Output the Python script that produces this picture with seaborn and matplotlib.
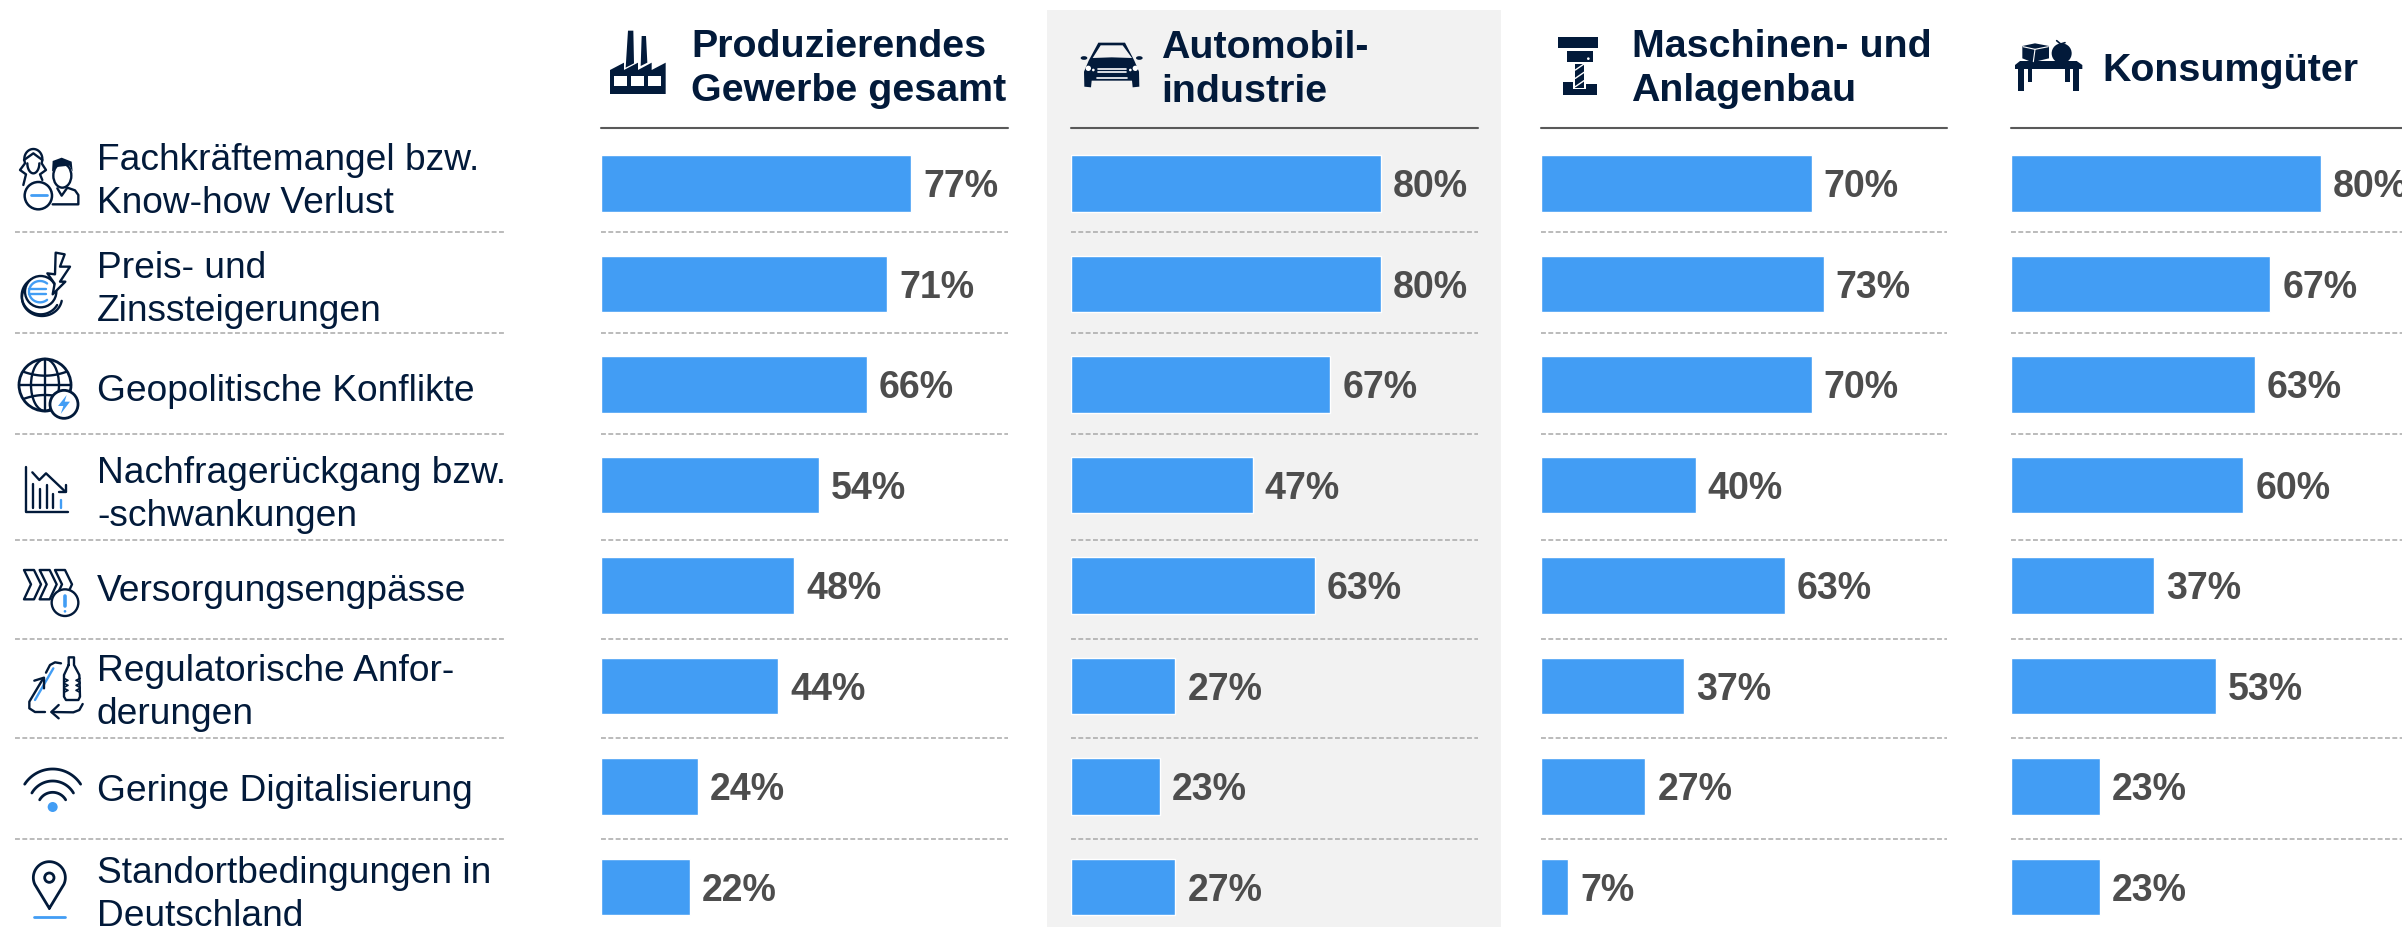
import numpy as np
import pandas as pd
import seaborn as sns
import matplotlib
matplotlib.use("Agg")
import matplotlib.pyplot as plt
from matplotlib.patches import Polygon, Circle, Ellipse, Rectangle
from matplotlib.transforms import Affine2D

categories = ["Fachkräftemangel bzw.\nKnow-how Verlust", "Preis- und\nZinssteigerungen",
              "Geopolitische Konflikte", "Nachfragerückgang bzw.\n-schwankungen",
              "Versorgungsengpässe", "Regulatorische Anfor-\nderungen",
              "Geringe Digitalisierung", "Standortbedingungen in\nDeutschland"]
panel_titles = ["Produzierendes\nGewerbe gesamt", "Automobil-\nindustrie",
                "Maschinen- und\nAnlagenbau", "Konsumgüter"]
gesamt = [77, 71, 66, 54, 48, 44, 24, 22]
automobil = [80, 80, 67, 47, 63, 27, 23, 27]
maschinen = [70, 73, 70, 40, 63, 37, 27, 7]
konsum = [80, 67, 63, 60, 37, 53, 23, 23]
panel_values = [gesamt, automobil, maschinen, konsum]

W, H = 2402, 927
NAVY = "#021a3a"
BLUE = "#429df4"
GREY = "#f2f2f2"
VAL = "#4d4d4d"
DASH = "#a8a8a8"

sns.set_theme(style="white")
plt.rcParams["font.family"] = ["Liberation Sans", "DejaVu Sans"]

fig = plt.figure(figsize=(W / 100, H / 100), dpi=100, facecolor="white")
ov = fig.add_axes([0, 0, 1, 1], zorder=0)
ov.set_xlim(0, W)
ov.set_ylim(H, 0)
ov.axis("off")

# panel geometry in pixels: left, right, title x, px per percent
panels = [(601, 1008, 691, 4.03), (1071, 1478, 1161, 3.87),
          (1541, 1947, 1631.5, 3.87), (2011, 2402, 2102, 3.87)]
row_seps = [232, 333, 434, 540, 639, 738, 839]
label_base = [213, 321, 401, 526, 601, 724, 801, 926]
title_base = [101, 102, 101, 81]
row0, pitch = 183.5, 100.5

ov.add_patch(Rectangle((1047, 10), 454, H - 10, fc=GREY, ec="none"))

dash_kw = dict(color=DASH, lw=1.1, dashes=(3.2, 1.6))
for y in row_seps:
    ov.plot([15, 506], [y, y], **dash_kw)
    for l, r, _, _ in panels:
        ov.plot([l, r], [y, y], **dash_kw)

for cat, yb in zip(categories, label_base):
    ov.text(97, yb, cat, fontsize=26.7, color=NAVY, va="baseline", ha="left", linespacing=1.29)

for (l, r, tx, sc), title, vals, yb in zip(panels, panel_titles, panel_values, title_base):
    ov.plot([l, r], [128, 128], color="#595959", lw=1.5)
    ov.text(tx, yb, title, fontsize=28.4, fontweight="bold", color=NAVY, va="baseline",
            ha="left", linespacing=1.27)
    top = row0 - pitch / 2
    ax = fig.add_axes([l / W, 0, (r - l) / W, (H - top) / H], zorder=1)
    df = pd.DataFrame({"cat": categories, "val": vals})
    sns.barplot(data=df, y="cat", x="val", ax=ax, color=BLUE, saturation=1, width=0.56,
                orient="h", order=categories)
    ax.set_xlim(0, (r - l) / sc)
    ax.set_ylim((H - top) / pitch - 0.5, -0.5)
    labs = ax.bar_label(ax.containers[0], labels=[f"{v}%" for v in vals], padding=8.6, fontsize=27,
                        fontweight="bold", color=VAL)
    for lab in labs:
        lab.xyann = (lab.xyann[0], -2.6)
    ax.axis("off")


# ---- icons: drawn in zoom-space coordinates (3x) relative to an origin
def tr(x0, y0):
    return Affine2D().scale(1 / 3).translate(x0, y0) + ov.transData


def line(t, pts, color=NAVY, lw=1.7, z=3, **k):
    p = np.array(pts, float)
    ov.plot(p[:, 0], p[:, 1], color=color, lw=lw, transform=t, zorder=z,
            solid_capstyle="round", solid_joinstyle="round", **k)


def arc(t, cx, cy, rx, ry, a1, a2, color=NAVY, lw=1.7, z=3):
    a = np.radians(np.linspace(a1, a2, 60))
    line(t, np.c_[cx + rx * np.cos(a), cy - ry * np.sin(a)], color, lw, z)


def poly(t, pts, fc=NAVY, ec="none", lw=0, z=3):
    ov.add_patch(Polygon(pts, closed=True, fc=fc, ec=ec, lw=lw, transform=t, zorder=z, joinstyle="round"))


def circ(t, c, r, fc="white", ec=NAVY, lw=1.7, z=3):
    ov.add_patch(Circle(c, r, fc=fc, ec=ec, lw=lw, transform=t, zorder=z))


# Fachkräfte
t = tr(10, 135)
arc(t, 70, 72, 27, 30, -20, 200)
line(t, [(45, 85), (30, 105), (48, 118), (40, 150)])
line(t, [(95, 85), (108, 105), (90, 118), (97, 135)])
arc(t, 70, 85, 18, 30, 180, 360)
line(t, [(42, 75), (70, 55), (97, 75)])
ov.add_patch(Ellipse((157, 122), 54, 72, fc="white", ec=NAVY, lw=1.7, transform=t, zorder=3))
poly(t, [(126, 110), (128, 78), (155, 68), (185, 80), (188, 110), (178, 92), (140, 96)])
line(t, [(128, 208), (205, 208), (205, 180), (195, 166), (172, 158), (155, 182), (142, 160)])
circ(t, (85, 182), 41, lw=1.8, z=4)
line(t, [(62, 181), (110, 181)], color=BLUE, lw=2, z=5)

# Preis
arc(t, 92, 482, 57, 56, 60, 330, lw=1.7)
arc(t, 96, 488, 60, 55, 150, 350, lw=1.7)
circ(t, (92, 470), 47, fc="white", lw=1.7, z=3)
arc(t, 90, 470, 33, 32, 50, 310, color=BLUE, lw=1.7, z=4)
line(t, [(56, 461), (108, 461)], color=BLUE, z=4)
line(t, [(56, 476), (108, 476)], color=BLUE, z=4)
poly(t, [(137, 353), (164, 358), (150, 395), (180, 395), (150, 440), (166, 440), (128, 478),
         (134, 446), (112, 415), (135, 418)], fc="white", ec=NAVY, lw=1.7, z=5)

# Globus
t = tr(10, 345)
circ(t, (105, 120), 78, lw=2)
ov.add_patch(Ellipse((105, 120), 84, 156, fc="none", ec=NAVY, lw=1.7, transform=t, zorder=3))
line(t, [(105, 42), (105, 198)])
line(t, [(27, 120), (183, 120)])
xs = np.linspace(40, 170, 40)
line(t, np.c_[xs, 92 - 12 * ((xs - 105) / 65) ** 2])
line(t, np.c_[xs, 150 + 12 * ((xs - 105) / 65) ** 2])
circ(t, (162, 178), 42, lw=2, z=4)
poly(t, [(170, 150), (144, 183), (160, 183), (152, 207), (180, 170), (164, 170)], fc=BLUE, z=5)

# Nachfrage
line(t, [(47, 365), (47, 500), (175, 500)])
for x, y in [(70, 418), (90, 432), (110, 420), (130, 448)]:
    line(t, [(x, y), (x, 488)])
line(t, [(152, 466), (152, 488)], color=BLUE)
line(t, [(67, 382), (88, 405), (108, 385), (166, 440)])
line(t, [(168, 420), (168, 442), (146, 442)])

# Versorgung
t = tr(10, 550)
for dx in (0, 47, 93):
    poly(t, [(42 + dx, 60), (72 + dx, 60), (93 + dx, 103), (72 + dx, 148), (42 + dx, 148),
             (63 + dx, 103)], fc="white", ec=NAVY, lw=1.7)
circ(t, (165, 158), 40, lw=1.7, z=4)
line(t, [(165, 137), (165, 168)], color=BLUE, lw=2.6, z=5)
circ(t, (165, 184), 4, fc=BLUE, ec="none", lw=0, z=5)

# Regulatorik
line(t, [(130, 355), (75, 450)], color=BLUE, lw=1.7)
line(t, [(108, 368), (120, 345), (135, 337), (153, 340)])
line(t, [(98, 388), (58, 455), (58, 475), (75, 486), (105, 486)])
line(t, [(73, 392), (102, 383), (102, 415)])
line(t, [(218, 462), (208, 480), (190, 487), (125, 486)])
line(t, [(146, 465), (124, 486), (146, 505)])
line(t, [(176, 345), (176, 322), (192, 322), (192, 345), (208, 375), (210, 440), (205, 450),
         (168, 450), (162, 440), (162, 375), (176, 345)])
for y in (385, 400, 415):
    line(t, [(162, y), (174, y + 6), (162, y + 12)], lw=1.2)
    line(t, [(210, y), (198, y + 6), (210, y + 12)], lw=1.2)

# WLAN
t = tr(10, 745)
arc(t, 128, 172, 100, 100, 33, 147, lw=2)
arc(t, 128, 180, 72, 72, 30, 150, lw=2)
arc(t, 128, 187, 45, 45, 30, 150, lw=2)
circ(t, (128, 186), 15, fc=BLUE, ec="none", lw=0)

# Standort
a = np.radians(np.linspace(-25, 205, 60))
pts = np.c_[118 + 48 * np.cos(a), 398 - 48 * np.sin(a)]
line(t, np.vstack([[(118, 490)], pts, [(118, 490)]]), lw=2)
circ(t, (118, 398), 14, fc="none", lw=2)
line(t, [(72, 515), (164, 515)], color=BLUE, lw=2)

# Fabrik
t = tr(600, 20)
poly(t, [(30, 150), (72, 128), (72, 150), (114, 128), (114, 150), (155, 128), (155, 150),
         (197, 128), (197, 222), (30, 222)])
poly(t, [(84, 32), (100, 32), (102, 130), (77, 143)])
poly(t, [(125, 48), (138, 48), (142, 128), (122, 138)])
for x0, x1 in [(43, 82), (94, 132), (145, 183)]:
    ov.add_patch(Rectangle((x0, 168), x1 - x0, 29, fc="white", ec="none", transform=t, zorder=4))

# Auto
t = tr(1070, 30)
poly(t, [(56, 92), (85, 38), (165, 38), (193, 92), (207, 125), (208, 170), (188, 172), (186, 152),
         (65, 152), (63, 172), (43, 170), (42, 125)])
ov.add_patch(Ellipse((42, 84), 20, 11, fc=NAVY, ec="none", transform=t, zorder=3))
ov.add_patch(Ellipse((208, 84), 20, 11, fc=NAVY, ec="none", transform=t, zorder=3))
poly(t, [(68, 84), (92, 46), (158, 46), (186, 84), (125, 82)], fc=GREY, z=4)
for c, r in [((55, 115), 8), ((70, 120), 4), ((196, 115), 8), ((181, 120), 4)]:
    circ(t, c, r, fc="white", ec="none", lw=0, z=4)
for x0, x1, y in [(84, 168, 117), (84, 168, 127), (80, 172, 143)]:
    line(t, [(x0, y), (x1, y)], color="white", lw=1.2, z=4)

# Fräse
t = tr(1540, 25)
for x, y, w, h in [(55, 35, 120, 35), (80, 77, 80, 35), (105, 118, 28, 72)]:
    ov.add_patch(Rectangle((x, y), w, h, fc=NAVY, ec="none", transform=t, zorder=3))
circ(t, (145, 101), 4, fc="white", ec="none", lw=0, z=4)
poly(t, [(68, 172), (100, 172), (100, 192), (138, 192), (138, 178), (170, 178), (170, 210), (68, 210)])
for y in (135, 160, 185):
    line(t, [(106, y), (132, y - 18)], color="white", lw=1, z=4)

# Konsumgüter
t = tr(2005, 30)
poly(t, [(52, 48), (90, 40), (132, 48), (132, 85), (82, 97), (52, 85)])
line(t, [(54, 50), (90, 58), (130, 50)], color="white", lw=0.8, z=4)
line(t, [(90, 58), (85, 95)], color="white", lw=0.8, z=4)
circ(t, (170, 70), 30, fc=NAVY, ec="none", lw=0)
line(t, [(155, 32), (167, 42), (180, 38)], lw=1.2)
poly(t, [(45, 93), (215, 93), (232, 105), (232, 117), (30, 117), (30, 105)])
for x, y1, w, h in [(40, 117, 18, 65), (205, 117, 17, 65), (68, 117, 14, 40), (180, 117, 14, 40)]:
    ov.add_patch(Rectangle((x, y1), w, h, fc=NAVY, ec="none", transform=t, zorder=3))

fig.savefig("out.png", dpi=100, facecolor="white")
